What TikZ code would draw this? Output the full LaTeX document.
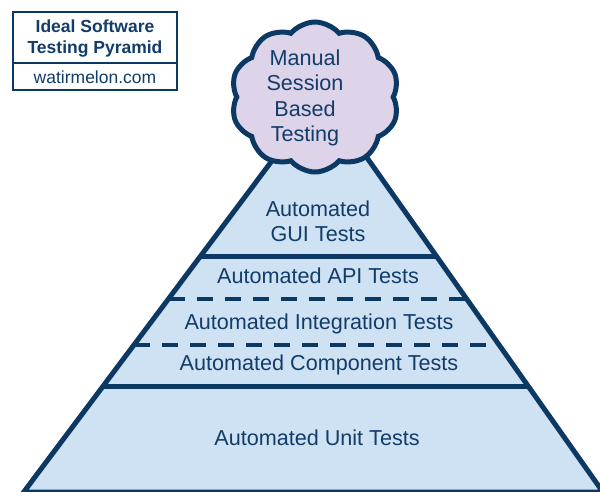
\documentclass[tikz,border=0pt]{standalone}
\usepackage{fontspec}
\setmainfont{Liberation Sans}
\usetikzlibrary{shapes.symbols}
\definecolor{pyrline}{RGB}{12,56,100}
\definecolor{pyrfill}{RGB}{207,226,243}
\definecolor{cloudfill}{RGB}{221,212,233}
\definecolor{pyrtext}{RGB}{18,60,105}
\begin{document}
\begin{tikzpicture}[x=1pt, y=-1pt,
    tier/.style={font=\fontsize{21.6}{25.3}\selectfont, text=pyrtext, align=center},
    heading/.style={font=\bfseries\fontsize{17.5}{21}\selectfont, text=pyrtext, align=center},
    sitename/.style={font=\fontsize{17.5}{21}\selectfont, text=pyrtext},
    boundary/.style={line width=5pt, draw=pyrline, line join=miter},
    solidsplit/.style={line width=5pt, draw=pyrline},
    dashsplit/.style={line width=4pt, draw=pyrline, dash pattern=on 16pt off 12pt}]
    \useasboundingbox (0,0) rectangle (600,491);

    % Pyramid corners
    \coordinate (apex) at (322,94);
    \coordinate (baseL) at (23.75,492);
    \coordinate (baseR) at (602.9,492);

    % Pyramid body
    \fill[pyrfill] (apex) -- (baseL) -- (baseR) -- cycle;

    % Tier boundaries
    \draw[solidsplit] (200.75,256) -- (436.3,256);
    \draw[dashsplit] (168.5,299) -- (466.7,299);
    \draw[dashsplit] (134,345) -- (499.1,345);
    \draw[solidsplit] (103.25,386) -- (528.1,386);

    % Pyramid outline
    \draw[boundary] (apex) -- (baseL) -- (baseR) -- cycle;

    % Tier labels
    \node[tier] (gui) at (318,221) {Automated\\GUI Tests};
    \node[tier] (api) at (318,276) {Automated API Tests};
    \node[tier] (integration) at (319,324) {Automated Integration Tests};
    \node[tier] (component) at (319,365) {Automated Component Tests};
    \node[tier] (unit) at (317,438) {Automated Unit Tests};

    % Manual testing cloud on top
    \node[cloud, cloud puffs=10, cloud puff arc=100, cloud ignores aspect,
          minimum width=168pt, minimum height=150pt, inner sep=0pt,
          fill=cloudfill, draw=pyrline, line width=5pt] (session) at (315,97) {};
    \node[tier] (manual) at (305,98) {Manual\\Session\\Based\\Testing};

    % Title box
    \draw[line width=2pt, draw=pyrline, fill=white] (13,12) rectangle (177,90);
    \draw[line width=2pt, draw=pyrline] (13,63) -- (177,63);
    \node[heading] (title) at (95,39) {Ideal Software\\Testing Pyramid};
    \node[sitename] (site) at (95,77) {watirmelon.com};
\end{tikzpicture}
\end{document}
